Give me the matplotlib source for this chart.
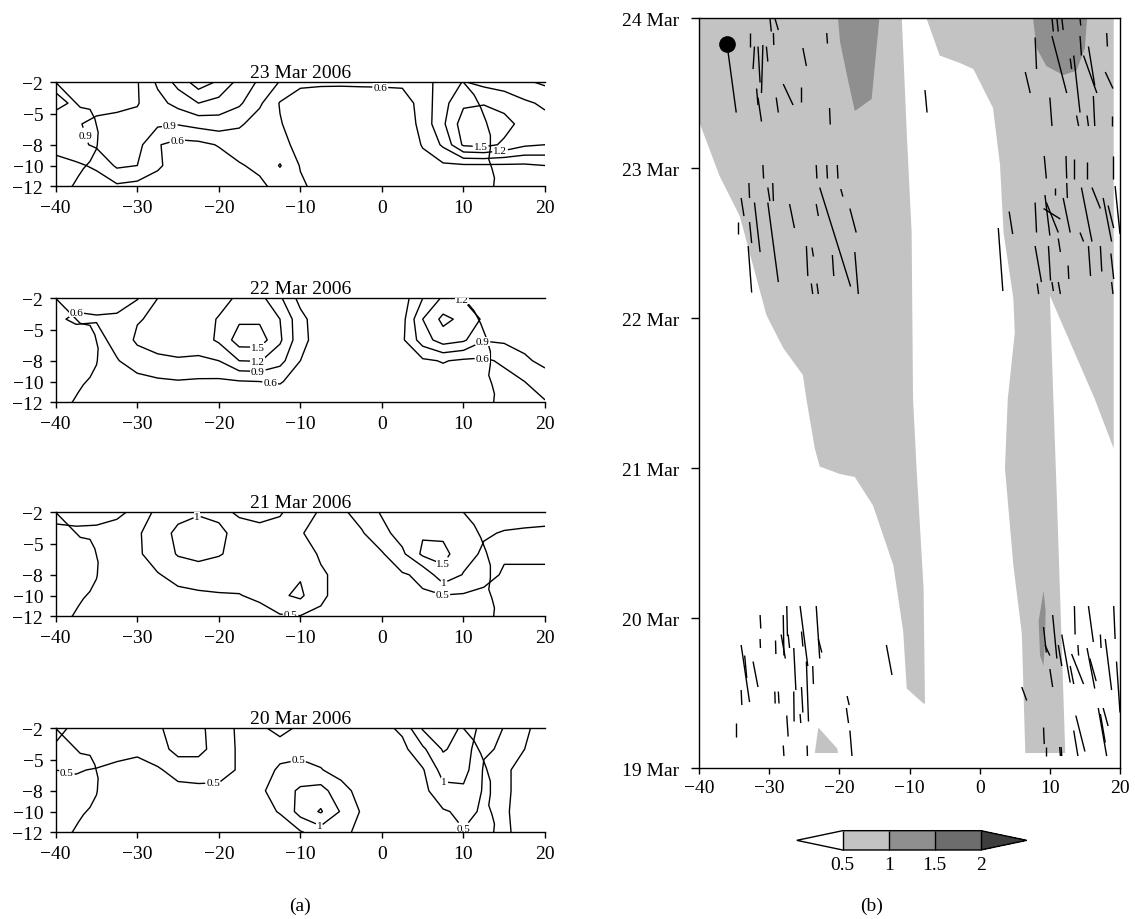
import numpy as np
import matplotlib
matplotlib.use("Agg")
import matplotlib.pyplot as plt
from matplotlib.collections import LineCollection
from matplotlib.colors import ListedColormap, BoundaryNorm
from matplotlib.cm import ScalarMappable

plt.rcParams['font.family'] = ['Liberation Serif', 'DejaVu Serif']
plt.rcParams['axes.linewidth'] = 1.0

# ---------------------------------------------------------------- grid (a)
lon = np.arange(-40.0, 20.01, 2.5)
lat = np.array([-2.0, -4.0, -6.0, -8.0, -10.0, -12.0])

field_23 = np.array([
    [0.75, 0.80, 0.80, 0.78, 0.88, 1.25, 1.60, 1.95, 1.75, 1.40, 1.15, 0.88, 0.66, 0.65, 0.65, 0.66, 0.66, 0.66, 0.80, 1.00, 1.22, 1.12, 1.05, 0.95, 0.85],
    [0.45, 0.70, 0.82, 0.82, 0.88, 1.10, 1.30, 1.50, 1.40, 1.25, 0.95, 0.58, 0.45, 0.40, 0.38, 0.38, 0.40, 0.45, 0.72, 1.10, 1.45, 1.48, 1.40, 1.25, 1.15],
    [0.88, 0.88, 0.95, 1.00, 1.00, 0.95, 0.92, 1.00, 1.05, 0.95, 0.75, 0.62, 0.45, 0.35, 0.33, 0.33, 0.35, 0.40, 0.70, 1.15, 1.65, 1.70, 1.60, 1.40, 1.30],
    [0.75, 0.82, 0.95, 1.05, 1.00, 0.62, 0.50, 0.52, 0.62, 0.70, 0.72, 0.68, 0.52, 0.35, 0.30, 0.30, 0.33, 0.40, 0.62, 0.95, 1.55, 1.60, 1.45, 1.25, 1.20],
    [0.45, 0.55, 0.65, 0.95, 0.90, 0.65, 0.45, 0.40, 0.45, 0.58, 0.65, 0.92, 0.58, 0.40, 0.35, 0.35, 0.35, 0.38, 0.50, 0.55, 0.55, 0.55, 0.55, 0.55, 0.60],
    [0.40, 0.42, 0.45, 0.55, 0.50, 0.45, 0.40, 0.38, 0.38, 0.42, 0.55, 0.68, 0.65, 0.50, 0.40, 0.35, 0.35, 0.40, 0.42, 0.45, 0.45, 0.45, 0.45, 0.50, 0.50],
])

field_22 = np.array([
    [0.50, 0.50, 0.52, 0.55, 0.58, 0.90, 1.00, 1.05, 1.10, 1.25, 1.30, 0.95, 0.50, 0.40, 0.38, 0.38, 0.40, 0.45, 0.90, 1.25, 1.18, 1.10, 1.00, 1.00, 0.95],
    [0.55, 0.65, 0.62, 0.62, 0.88, 0.95, 1.00, 1.08, 1.22, 1.45, 1.45, 1.20, 0.70, 0.40, 0.40, 0.40, 0.42, 0.50, 1.20, 1.58, 1.42, 1.15, 1.00, 1.00, 1.00],
    [0.45, 0.45, 0.50, 0.70, 0.95, 1.00, 1.00, 1.05, 1.25, 1.65, 1.65, 1.25, 0.70, 0.45, 0.40, 0.40, 0.42, 0.55, 1.05, 1.35, 1.25, 0.92, 0.95, 1.00, 1.00],
    [0.40, 0.40, 0.42, 0.58, 0.75, 0.85, 0.88, 0.85, 0.90, 1.20, 1.22, 1.00, 0.60, 0.42, 0.40, 0.40, 0.42, 0.45, 0.55, 0.62, 0.55, 0.55, 0.65, 0.85, 0.98],
    [0.38, 0.38, 0.38, 0.40, 0.50, 0.55, 0.58, 0.56, 0.55, 0.58, 0.60, 0.62, 0.50, 0.40, 0.38, 0.38, 0.38, 0.40, 0.42, 0.45, 0.45, 0.45, 0.50, 0.60, 0.75],
    [0.36, 0.36, 0.36, 0.36, 0.40, 0.42, 0.44, 0.44, 0.42, 0.42, 0.44, 0.45, 0.42, 0.38, 0.36, 0.36, 0.36, 0.36, 0.38, 0.40, 0.40, 0.40, 0.45, 0.50, 0.58],
])

field_21 = np.array([
    [0.60, 0.60, 0.58, 0.54, 0.45, 0.52, 0.80, 0.95, 0.90, 1.05, 1.15, 1.05, 0.70, 0.45, 0.40, 0.70, 1.05, 1.20, 1.30, 1.25, 1.20, 1.20, 1.20, 1.15, 1.10],
    [0.42, 0.45, 0.45, 0.42, 0.45, 0.70, 1.15, 1.25, 1.10, 0.85, 0.85, 0.80, 0.52, 0.40, 0.35, 0.45, 0.85, 1.20, 1.45, 1.40, 1.20, 1.05, 0.97, 0.95, 0.95],
    [0.40, 0.40, 0.40, 0.40, 0.45, 0.65, 1.05, 1.20, 1.05, 0.80, 0.75, 0.75, 0.70, 0.45, 0.38, 0.38, 0.45, 0.90, 1.60, 1.65, 1.20, 0.92, 0.55, 0.55, 0.55],
    [0.38, 0.38, 0.38, 0.38, 0.40, 0.48, 0.60, 0.65, 0.62, 0.60, 0.62, 0.85, 0.95, 0.55, 0.40, 0.35, 0.38, 0.45, 0.60, 1.35, 0.97, 0.65, 0.45, 0.45, 0.45],
    [0.36, 0.36, 0.36, 0.36, 0.37, 0.40, 0.42, 0.45, 0.48, 0.49, 0.55, 0.92, 1.10, 0.55, 0.40, 0.38, 0.38, 0.40, 0.45, 0.48, 0.45, 0.40, 0.38, 0.38, 0.38],
    [0.35, 0.35, 0.35, 0.35, 0.35, 0.35, 0.35, 0.35, 0.35, 0.35, 0.40, 0.45, 0.48, 0.45, 0.35, 0.35, 0.35, 0.35, 0.35, 0.35, 0.35, 0.35, 0.35, 0.35, 0.35],
])

field_20 = np.array([
    [1.10, 0.92, 0.75, 0.70, 0.75, 0.95, 1.15, 1.10, 0.80, 0.40, 0.45, 0.58, 0.45, 0.35, 0.30, 0.30, 0.35, 0.60, 1.55, 1.65, 1.45, 0.75, 0.48, 0.48, 0.55],
    [0.95, 0.80, 0.70, 0.62, 0.56, 0.75, 1.20, 1.20, 0.70, 0.45, 0.35, 0.38, 0.40, 0.35, 0.30, 0.30, 0.32, 0.35, 0.90, 1.55, 1.30, 0.55, 0.45, 0.50, 0.60],
    [0.50, 0.52, 0.48, 0.42, 0.40, 0.45, 0.65, 0.65, 0.58, 0.48, 0.35, 0.55, 0.60, 0.52, 0.35, 0.30, 0.30, 0.32, 0.45, 1.20, 1.20, 0.45, 0.45, 0.60, 0.70],
    [0.42, 0.42, 0.40, 0.38, 0.36, 0.36, 0.38, 0.42, 0.45, 0.45, 0.42, 0.70, 1.10, 1.20, 0.65, 0.35, 0.30, 0.30, 0.35, 0.85, 0.90, 0.45, 0.45, 0.60, 0.70],
    [0.42, 0.38, 0.38, 0.38, 0.38, 0.38, 0.38, 0.38, 0.38, 0.38, 0.40, 0.52, 1.20, 1.55, 0.95, 0.45, 0.30, 0.30, 0.35, 0.45, 0.60, 0.45, 0.45, 0.65, 0.75],
    [0.45, 0.40, 0.38, 0.38, 0.38, 0.38, 0.38, 0.38, 0.38, 0.38, 0.40, 0.35, 0.45, 0.75, 0.60, 0.40, 0.30, 0.30, 0.32, 0.38, 0.48, 0.40, 0.45, 0.60, 0.70],
])

# coastlines (lon, lat)
brazil_lon = [-40.0, -38.5, -37.0, -35.8, -35.2, -34.8, -34.9, -35.0, -35.8, -36.6, -37.2, -37.9, -38.0]
brazil_lat = [-2.0, -3.2, -4.4, -4.6, -5.5, -6.8, -8.0, -8.4, -9.6, -10.3, -11.0, -11.9, -12.0]
africa_lon = [10.0, 11.3, 12.1, 12.8, 13.3, 13.3, 13.1, 13.5, 13.8, 13.7]
africa_lat = [-2.0, -3.2, -4.4, -5.8, -7.1, -8.3, -9.4, -10.3, -11.2, -12.0]

levels_03 = [0.6, 0.9, 1.2, 1.5, 1.8]
levels_05 = [0.5, 1.0, 1.5]

# ---------------------------------------------------------------- data (b)
band1_lon = [-8.0, -10.4, -10.9, -12.3, -15.2, -17.8, -19.9, -22.8, -23.5, -24.7, -25.2, -28.0,
             -30.4, -32.3, -34.2, -37.1, -40.0, -40.0, -11.1, -10.4, -9.7, -9.5, -9.0, -8.0, -7.8]
band1_day = [19.43, 19.53, 19.91, 20.35, 20.75, 20.94, 20.96, 21.01, 21.13, 21.46, 21.62, 21.80,
             22.02, 22.35, 22.68, 22.95, 23.31, 24.00, 24.00, 23.24, 22.57, 21.46, 21.00, 20.20, 19.43]

band2_lon = [6.5, 6.0, 4.8, 3.6, 4.0, 5.0, 4.8, 3.4, 2.9, 1.9, -0.9, -2.8, -5.7, -7.6,
             19.1, 19.1, 16.4, 10.0, 10.5, 11.0, 12.2]
band2_day = [19.10, 19.90, 20.35, 21.00, 21.46, 21.90, 22.13, 22.57, 23.02, 23.40, 23.66, 23.70, 23.75, 24.00,
             24.00, 21.13, 21.46, 22.15, 21.46, 20.80, 19.10]

band3_lon = [-23.5, -23.0, -20.3, -20.2]
band3_day = [19.10, 19.27, 19.13, 19.10]

dark1_lon = [-20.2, -19.9, -18.7, -17.8, -15.4, -14.5, -14.3]
dark1_day = [24.00, 23.84, 23.57, 23.38, 23.46, 23.90, 24.00]
dark2_lon = [7.6, 8.1, 9.5, 11.9, 13.8, 15.0, 15.3]
dark2_day = [24.00, 23.80, 23.68, 23.62, 23.65, 23.80, 24.00]
dark3_lon = [9.1, 8.4, 8.6, 9.1, 9.3, 9.4]
dark3_day = [20.18, 19.98, 19.75, 19.68, 19.85, 20.05]

seg_lon0 = [-36.0, -32.8, -32.1, -31.6, -30.9, -30.4, -29.9, -29.4, -29.2, -31.8, -31.6, -29.0, -28.0, -25.4, -25.2, -21.8, -21.4, -7.8,
            10.3, 11.0, 11.7, 14.3, 7.9, 10.3, 13.4, 14.3, 14.8, 15.5, 12.9, 6.5, 17.9, 18.1, 10.0, 13.8, 15.3, 16.2, 18.8,
            -30.9, -23.3, -21.8, -20.3, -32.9, -30.2, -29.5, -34.0, -32.1, -30.2, -34.4, -32.8, -27.1, -23.3, -22.8, -19.8, -18.5,
            -33.0, -24.7, -23.9, -21.0, -17.8, -24.0, -23.2,
            9.2, 12.3, 13.4, 15.3, 19.0, 10.7, 12.4, 4.2, 2.65, 7.9, 9.3, 9.5, 9.1, 11.9, 14.5, 16.0, 17.6, 18.3, 19.3, 14.3,
            7.9, 9.8, 11.2, 12.6, 15.5, 17.2, 18.7, 8.2, 10.3, 11.2, 18.8,
            -31.3, -28.0, -27.5, -25.6, -23.3, -34.0, -33.5, -32.3, -31.3, -29.1, -28.3, -27.3, -26.5, -25.4, -24.7, -23.8, -23.0,
            -34.0, -29.2, -28.7, -26.5, -25.4, -27.5, -25.6, -34.7, -28.0, -24.6, -13.3, -18.9, -19.0, -18.5,
            9.1, 10.4, 9.3, 11.2, 11.7, 13.5, 14.0, 15.5, 15.3, 15.7, 13.1, 17.2, 17.9, 19.1, 19.5, 10.0, 12.9, 6.0,
            9.1, 9.5, 11.4, 11.6, 13.4, 13.7, 16.9, 17.6, 17.2]
seg_day0 = [23.82, 23.90, 23.81, 23.81, 23.82, 23.81, 24.00, 23.90, 24.00, 23.53, 23.47, 23.47, 23.56, 23.54, 23.80, 23.90, 23.40, 23.52,
            24.00, 24.00, 24.00, 24.00, 23.87, 23.88, 23.75, 23.88, 23.75, 23.81, 23.73, 23.64, 23.64, 23.90, 23.47, 23.35, 23.35, 23.48, 23.35,
            23.02, 23.02, 23.02, 23.02, 22.90, 22.87, 22.90, 22.80, 22.77, 22.77, 22.64, 22.64, 22.76, 22.76, 22.87, 22.86, 22.73,
            22.48, 22.48, 22.47, 22.42, 22.44, 22.23, 22.23,
            23.08, 23.08, 23.06, 23.04, 23.08, 22.87, 22.90, 22.71, 22.60, 22.77, 22.82, 22.77, 22.73, 22.80, 22.87, 22.87, 22.80, 22.75, 22.88, 22.57,
            22.48, 22.48, 22.53, 22.35, 22.48, 22.48, 22.43, 22.23, 22.24, 22.24, 22.24,
            20.02, 20.02, 20.08, 20.08, 20.08, 19.82, 19.75, 19.71, 19.86, 19.85, 19.89, 19.89, 19.80, 19.91, 19.71, 19.68, 19.86,
            19.52, 19.51, 19.51, 19.51, 19.54, 19.35, 19.36, 19.30, 19.15, 19.15, 19.82, 19.48, 19.40, 19.25,
            19.94, 20.02, 19.82, 19.82, 19.89, 20.08, 19.82, 20.08, 19.80, 19.73, 19.76, 19.89, 19.86, 20.08, 19.71, 19.66, 19.68, 19.54,
            19.27, 19.14, 19.14, 19.14, 19.25, 19.35, 19.40, 19.40, 19.36]
seg_lon1 = [-34.7, -32.8, -32.3, -31.3, -31.1, -30.2, -29.7, -29.35, -28.7, -31.6, -31.1, -28.7, -26.6, -25.4, -24.7, -21.7, -21.3, -7.5,
            10.5, 11.2, 11.9, 14.4, 8.1, 12.4, 14.3, 14.5, 16.7, 16.4, 13.1, 7.2, 19.0, 18.2, 10.3, 14.1, 15.5, 16.4, 18.8,
            -30.8, -23.2, -21.7, -20.2, -32.8, -29.9, -29.4, -33.6, -31.3, -28.7, -34.4, -32.5, -26.4, -23.0, -18.4, -19.5, -17.6,
            -32.5, -24.5, -23.7, -20.8, -17.3, -23.8, -23.0,
            9.5, 12.4, 13.4, 15.3, 19.0, 10.7, 12.5, 4.7, 3.3, 8.1, 10.0, 11.2, 11.5, 12.9, 16.0, 17.2, 18.8, 19.1, 20.0, 14.8,
            8.8, 10.1, 11.5, 12.7, 15.8, 17.4, 19.1, 8.4, 10.5, 11.5, 19.0,
            -31.2, -27.9, -27.4, -24.5, -22.8, -32.8, -33.2, -31.6, -31.25, -29.05, -27.7, -27.1, -26.2, -25.2, -24.4, -23.7, -22.5,
            -33.9, -29.15, -28.6, -26.45, -25.2, -27.3, -25.5, -34.7, -27.9, -24.55, -12.5, -18.6, -18.7, -18.2,
            9.5, 11.0, 10.0, 11.7, 12.9, 13.6, 14.1, 16.2, 16.4, 16.6, 14.8, 17.3, 18.8, 19.3, 20.0, 10.4, 13.4, 6.7,
            9.2, 9.5, 11.5, 11.7, 14.0, 15.0, 18.1, 18.3, 17.9]
seg_day1 = [23.37, 23.81, 23.66, 23.57, 23.50, 23.71, 23.91, 23.82, 23.92, 23.42, 23.31, 23.37, 23.42, 23.44, 23.68, 23.83, 23.29, 23.37,
            23.91, 23.91, 23.92, 23.95, 23.66, 23.50, 23.37, 23.75, 23.50, 23.55, 23.66, 23.50, 23.53, 23.81, 23.28, 23.28, 23.28, 23.28, 23.28,
            22.93, 22.93, 22.93, 22.93, 22.80, 22.78, 22.78, 22.68, 22.44, 22.24, 22.56, 22.50, 22.60, 22.68, 22.21, 22.81, 22.57,
            22.17, 22.28, 22.41, 22.28, 22.16, 22.16, 22.16,
            22.93, 22.93, 22.93, 22.93, 22.93, 22.82, 22.80, 22.56, 22.18, 22.57, 22.55, 22.57, 22.66, 22.57, 22.51, 22.73, 22.51, 22.60, 22.56, 22.51,
            22.24, 22.25, 22.44, 22.26, 22.28, 22.31, 22.26, 22.16, 22.18, 22.16, 22.16,
            19.93, 19.75, 19.88, 19.68, 19.73, 19.44, 19.60, 19.54, 19.80, 19.76, 19.73, 19.80, 19.52, 19.81, 19.31, 19.56, 19.77,
            19.42, 19.43, 19.43, 19.31, 19.37, 19.21, 19.30, 19.21, 19.08, 19.08, 19.62, 19.42, 19.30, 19.08,
            19.77, 19.73, 19.75, 19.68, 19.57, 19.89, 19.75, 19.84, 19.53, 19.58, 19.56, 19.80, 19.52, 19.86, 19.37, 19.54, 19.56, 19.45,
            19.16, 19.08, 19.08, 19.08, 19.08, 19.11, 19.08, 19.28, 19.17]

dot_lon = [-36.0]
dot_day = [23.83]

day_ticks = [19, 20, 21, 22, 23, 24]
day_labels = ['19 Mar', '20 Mar', '21 Mar', '22 Mar', '23 Mar', '24 Mar']
lon_ticks = [-40, -30, -20, -10, 0, 10, 20]

shade_bounds = [0.5, 1.0, 1.5, 2.0]
shade_colors = ['#c3c3c3', '#8f8f8f', '#6d6d6d']
shade_under = '#ffffff'
shade_over = '#3e3e3e'

# ---------------------------------------------------------------- figure
fig = plt.figure(figsize=(11.35, 9.2), dpi=100)

panels = [
    ('23 Mar 2006', field_23, levels_03, '%.1f',
     [(-37.6, -7.4), (-26.0, -6.3), (-25.2, -7.3), (-0.2, -2.3), (12.1, -8.3), (14.5, -8.7)]),
    ('22 Mar 2006', field_22, levels_03, '%.1f',
     [(-37.6, -3.0), (-15.2, -6.8), (-15.2, -8.0), (-15.2, -9.05), (-13.7, -10.1), (9.8, -2.1), (12.3, -6.1), (12.3, -7.2)]),
    ('21 Mar 2006', field_21, levels_05, '%g',
     [(-22.5, -2.7), (-11.2, -11.8), (7.6, -7.0), (7.6, -8.8), (7.4, -9.95)]),
    ('20 Mar 2006', field_20, levels_05, '%g',
     [(-38.6, -6.1), (-20.7, -7.4), (-10.2, -5.2), (-7.6, -11.2), (7.6, -7.5), (9.8, -11.9)]),
]
bottoms = [0.7964, 0.5616, 0.3290, 0.0942]

for (title, fld, lev, fmt, lab_pos), b in zip(panels, bottoms):
    ax = fig.add_axes([0.0491, b, 0.4311, 0.113])
    cs = ax.contour(lon, lat, fld, levels=lev, colors='k', linewidths=1.0)
    labels = ax.clabel(cs, fmt=fmt, fontsize=8, inline=True, inline_spacing=1, manual=lab_pos)
    for t in labels:
        t.set_rotation(0)
        t.set_bbox(dict(facecolor='white', edgecolor='none', pad=0.1))
    ax.plot(brazil_lon, brazil_lat, color='k', lw=1.0)
    ax.plot(africa_lon, africa_lat, color='k', lw=1.0)
    ax.set_xlim(-40, 20)
    ax.set_ylim(-12, -2)
    ax.set_xticks(lon_ticks)
    ax.set_yticks([-2, -5, -8, -10, -12])
    ax.tick_params(direction='out', length=4, width=1.0, labelsize=14, pad=5)
    ax.spines['right'].set_visible(False)
    ax.set_title(title, fontsize=14, pad=4)

fig.text(0.2647, 1 - 906 / 920, '(a)', ha='center', va='center', fontsize=14)

# ---------------------------------------------------------------- panel (b)
axb = fig.add_axes([0.6159, 0.1641, 0.3709, 0.8152])
axb.fill(band1_lon, band1_day, facecolor=shade_colors[0], edgecolor='none', zorder=1)
axb.fill(band2_lon, band2_day, facecolor=shade_colors[0], edgecolor='none', zorder=1)
axb.fill(band3_lon, band3_day, facecolor=shade_colors[0], edgecolor='none', zorder=1)
for dl, dd in ((dark1_lon, dark1_day), (dark2_lon, dark2_day), (dark3_lon, dark3_day)):
    axb.fill(dl, dd, facecolor=shade_colors[1], edgecolor='none', zorder=2)

segs = [[(x0, y0), (x1, y1)] for x0, y0, x1, y1 in zip(seg_lon0, seg_day0, seg_lon1, seg_day1)]
axb.add_collection(LineCollection(segs, colors='k', linewidths=1.0, zorder=3))
axb.plot(dot_lon, dot_day, 'o', color='k', ms=11, zorder=4)

axb.set_xlim(-40, 20)
axb.set_ylim(19, 24)
axb.set_xticks(lon_ticks)
axb.set_yticks(day_ticks)
axb.set_yticklabels(day_labels)
axb.tick_params(axis='x', direction='out', length=4, width=1.0, labelsize=14, pad=4)
axb.tick_params(axis='y', direction='out', length=6, width=1.0, labelsize=14, pad=8)

cmap = ListedColormap(shade_colors)
cmap.set_under(shade_under)
cmap.set_over(shade_over)
norm = BoundaryNorm(shade_bounds, cmap.N)
cax = fig.add_axes([0.702, 0.075, 0.2026, 0.021])
cb = fig.colorbar(ScalarMappable(norm=norm, cmap=cmap), cax=cax, orientation='horizontal',
                  extend='both', extendfrac=0.333, ticks=shade_bounds, drawedges=True)
cb.ax.set_xticklabels(['0.5', '1', '1.5', '2'])
cb.ax.tick_params(length=0, labelsize=14, pad=4)
cb.outline.set_linewidth(1.0)
cb.dividers.set_linewidth(1.0)

fig.text(0.768, 1 - 906 / 920, '(b)', ha='center', va='center', fontsize=14)

fig.savefig('out.png', dpi=100)
